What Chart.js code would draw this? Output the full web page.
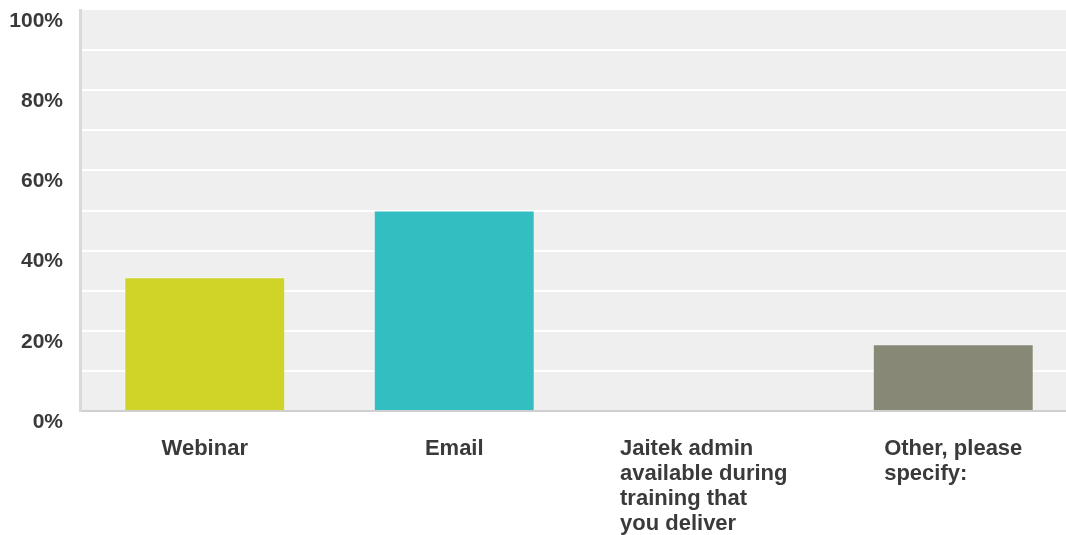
<!DOCTYPE html>
<html>
<head>
<meta charset="utf-8">
<script src="https://cdn.jsdelivr.net/npm/chart.js@4/dist/chart.umd.min.js"></script>
<style>
  html, body { margin: 0; padding: 0; background: #fff; overflow: hidden; }
  #wrap { width: 1078px; height: 535px; position: relative; }
</style>
</head>
<body>
<div id="wrap"><canvas id="chart"></canvas></div>
<script>
const categories = [
  ['Webinar'],
  ['Email'],
  ['Jaitek admin', 'available during', 'training that', 'you deliver'],
  ['Other, please', 'specify:']
];
const percentages = [33.33, 50, 0, 16.67];
const barColors = ['#d0d428', '#33bec1', '#d0d428', '#878876'];
const yTicks = [0, 20, 40, 60, 80, 100];

const plotBg = {
  id: 'plotBg',
  beforeDraw(chart) {
    const { ctx, chartArea: a } = chart;
    ctx.save();
    ctx.fillStyle = '#efefef';
    ctx.fillRect(a.left, a.top, a.right - a.left, a.bottom - a.top);
    ctx.restore();
  }
};

// category labels: lines left-aligned, block centred under the bar
const blockLabels = {
  id: 'blockLabels',
  afterDraw(chart) {
    const { ctx } = chart;
    const x = chart.scales.x;
    ctx.save();
    ctx.font = 'bold 22px "Liberation Sans", Arial, sans-serif';
    ctx.fillStyle = '#3a3a3a';
    ctx.textAlign = 'left';
    ctx.textBaseline = 'middle';
    categories.forEach((lines, i) => {
      const w = Math.max(...lines.map(l => ctx.measureText(l).width));
      const left = x.getPixelForValue(i) - w / 2;
      lines.forEach((l, j) => ctx.fillText(l, left, chart.chartArea.bottom + 38 + j * 25));
    });
    ctx.restore();
  }
};

new Chart(document.getElementById('chart'), {
  type: 'bar',
  data: {
    labels: categories.map(c => c.join(' ')),
    datasets: [{
      data: percentages,
      backgroundColor: barColors,
      borderColor: 'rgba(255,255,255,0.35)',
      borderWidth: 1,
      categoryPercentage: 1,
      barPercentage: 0.645
    }]
  },
  options: {
    responsive: true,
    maintainAspectRatio: false,
    animation: false,
    layout: { padding: { top: 10, bottom: 124, left: 0, right: 0 } },
    plugins: { legend: { display: false }, tooltip: { enabled: false } },
    scales: {
      x: {
        ticks: { display: false },
        grid: { display: false, drawTicks: false },
        border: { display: true, color: '#cfcfcf', width: 2 }
      },
      y: {
        min: 0,
        max: 100,
        afterFit(s) { s.width = 80; s.paddingTop = 0; s.paddingBottom = 0; },
        ticks: {
          stepSize: 10,
          padding: 17,
          labelOffset: 11,
          color: '#3a3a3a',
          font: { family: '"Liberation Sans", Arial, sans-serif', size: 21, weight: 'bold' },
          callback: v => yTicks.includes(v) ? v + '%' : ''
        },
        grid: {
          drawTicks: false,
          lineWidth: 2,
          color: c => (c.tick && (c.tick.value === 0 || c.tick.value === 100)) ? 'rgba(0,0,0,0)' : '#ffffff'
        },
        border: { display: true, color: '#d9d9d9', width: 3 }
      }
    }
  },
  plugins: [plotBg, blockLabels]
});
</script>
</body>
</html>
